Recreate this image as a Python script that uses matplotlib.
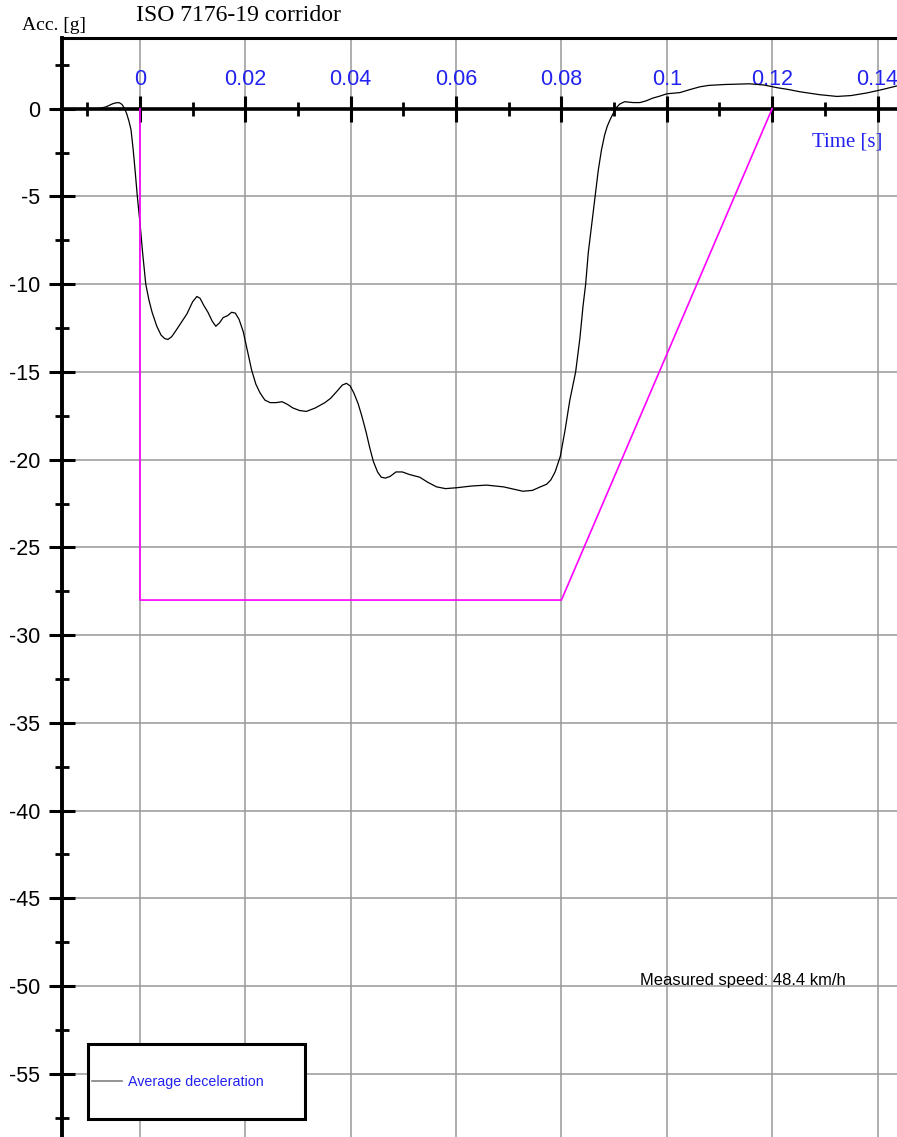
import matplotlib
matplotlib.use("Agg")
import matplotlib.pyplot as plt
from matplotlib.lines import Line2D
from matplotlib.patches import Rectangle
from matplotlib.ticker import FixedLocator, FixedFormatter

# measured acceleration trace
time_s = [
    -0.0080, -0.0065, -0.0052, -0.0045, -0.0039, -0.0034, -0.0029, -0.0025,
    -0.0021, -0.0017, -0.0013, -0.0009, -0.0005, 0.0000, 0.0005, 0.0011,
    0.0017, 0.0023, 0.0032, 0.0040, 0.0047, 0.0053, 0.0060, 0.0067,
    0.0078, 0.0089, 0.0100, 0.0108, 0.0114, 0.0121, 0.0129, 0.0137,
    0.0144, 0.0151, 0.0158, 0.0166, 0.0174, 0.0181, 0.0188, 0.0196,
    0.0204, 0.0212, 0.0220, 0.0228, 0.0237, 0.0247, 0.0258, 0.0270,
    0.0280, 0.0290, 0.0303, 0.0316, 0.0333, 0.0351, 0.0362, 0.0374,
    0.0384, 0.0392, 0.0399, 0.0406, 0.0414, 0.0421, 0.0429, 0.0436,
    0.0443, 0.0451, 0.0458, 0.0466, 0.0475, 0.0486, 0.0498, 0.0512,
    0.0531, 0.0547, 0.0563, 0.0580, 0.0601, 0.0630, 0.0658, 0.0690,
    0.0712, 0.0727, 0.0745, 0.0760, 0.0772, 0.0780, 0.0788, 0.0798,
    0.0807, 0.0816, 0.0827, 0.0835, 0.0841, 0.0846, 0.0851, 0.0857,
    0.0864, 0.0870, 0.0876, 0.0882, 0.0887, 0.0892, 0.0897, 0.0901,
    0.0906, 0.0911, 0.0920, 0.0936, 0.0949, 0.0961, 0.0973, 0.0987,
    0.1000, 0.1025, 0.1045, 0.1063, 0.1080, 0.1110, 0.1157, 0.1185,
    0.1209, 0.1230, 0.1252, 0.1290, 0.1323, 0.1350, 0.1380, 0.1410,
    0.1437,
]
accel_g = [
    0.00, 0.10, 0.28, 0.34, 0.34, 0.24, 0.00, -0.30,
    -0.70, -1.20, -2.30, -3.60, -5.00, -6.50, -8.20, -10.00,
    -10.90, -11.60, -12.40, -12.90, -13.10, -13.15, -13.00, -12.70,
    -12.20, -11.70, -11.00, -10.70, -10.80, -11.20, -11.60, -12.10,
    -12.40, -12.20, -11.90, -11.80, -11.60, -11.65, -12.00, -12.70,
    -13.80, -14.90, -15.70, -16.20, -16.60, -16.75, -16.75, -16.70,
    -16.85, -17.05, -17.20, -17.25, -17.05, -16.75, -16.50, -16.10,
    -15.75, -15.65, -15.80, -16.20, -16.80, -17.50, -18.40, -19.30,
    -20.10, -20.70, -21.00, -21.05, -20.95, -20.70, -20.70, -20.85,
    -21.00, -21.30, -21.55, -21.65, -21.60, -21.50, -21.45, -21.55,
    -21.70, -21.80, -21.75, -21.55, -21.40, -21.15, -20.70, -19.80,
    -18.30, -16.60, -15.00, -13.10, -11.25, -10.00, -8.20, -6.70,
    -5.00, -3.50, -2.35, -1.50, -1.00, -0.65, -0.35, -0.10,
    0.12, 0.27, 0.40, 0.35, 0.35, 0.45, 0.60, 0.72,
    0.85, 0.92, 1.10, 1.25, 1.33, 1.38, 1.42, 1.35,
    1.20, 1.10, 0.97, 0.80, 0.70, 0.75, 0.90, 1.10,
    1.30,
]

# ISO 7176-19 corridor
corridor_t = [0.0, 0.0, 0.08, 0.12]
corridor_g = [0.0, -28.0, -28.0, 0.0]

x_ticks = [0.0, 0.02, 0.04, 0.06, 0.08, 0.10, 0.12, 0.14]
x_tick_labels = ["0", "0.02", "0.04", "0.06", "0.08", "0.1", "0.12", "0.14"]
x_minor = [-0.01, 0.01, 0.03, 0.05, 0.07, 0.09, 0.11, 0.13]
y_ticks = [0, -5, -10, -15, -20, -25, -30, -35, -40, -45, -50, -55]
y_tick_labels = [str(v) for v in y_ticks]
y_minor = [2.5, -2.5, -7.5, -12.5, -17.5, -22.5, -27.5, -32.5, -37.5,
           -42.5, -47.5, -52.5, -57.5]

BLUE = "#2222f0"
W, H = 897, 1137

plt.rcParams["axes.unicode_minus"] = False
plt.rcParams["font.family"] = ["Liberation Sans", "DejaVu Sans"]

fig = plt.figure(figsize=(W / 100, H / 100), dpi=100)
ax = fig.add_axes([62 / W, 0, 835 / W, 1099 / H])
ax.set_xlim(-0.0148, 0.1437)
ax.set_ylim(-58.6, 4.03)

# curve + corridor
ax.plot(time_s, accel_g, color="black", lw=0.9, zorder=3)
ax.plot(corridor_t, corridor_g, color="#ff00ff", lw=1.2, zorder=3)

# axes: x-axis sits on zero, frame line on top
ax.spines["top"].set_position(("data", 0))
ax.spines["bottom"].set_position(("axes", 1.0))
ax.spines["right"].set_visible(False)
ax.spines["top"].set_linewidth(2.6)
ax.spines["left"].set_linewidth(2.8)
ax.spines["bottom"].set_linewidth(2.2)
ax.xaxis.set_ticks_position("top")

ax.xaxis.set_major_locator(FixedLocator(x_ticks))
ax.xaxis.set_major_formatter(FixedFormatter(x_tick_labels))
ax.xaxis.set_minor_locator(FixedLocator(x_minor))
ax.yaxis.set_major_locator(FixedLocator(y_ticks))
ax.yaxis.set_major_formatter(FixedFormatter(y_tick_labels))
ax.yaxis.set_minor_locator(FixedLocator(y_minor))

ax.tick_params(axis="x", which="major", direction="inout", length=19, width=2.2,
               pad=4, labelsize=15.5, labelcolor=BLUE)
ax.tick_params(axis="x", which="minor", direction="inout", length=10, width=2.0)
ax.tick_params(axis="y", which="major", direction="inout", length=19, width=2.2,
               pad=6, labelsize=15.5)
ax.tick_params(axis="y", which="minor", direction="inout", length=10, width=2.0)

ax.grid(True, which="major", color="#999999", lw=1.1)
ax.set_axisbelow(True)

# legend with its own white box
ax.add_patch(Rectangle(((88 - 62) / 835, (H - 1119) / 1099), 217 / 835, 75 / 1099,
                       transform=ax.transAxes, facecolor="white", edgecolor="black",
                       lw=2.2, clip_on=False, zorder=4))
handle = Line2D([], [], color="#808080", lw=1.2)
leg = ax.legend([handle], ["Average deceleration"], loc="center left",
                bbox_to_anchor=((92 - 62) / 835, (H - 1082) / 1099),
                frameon=False, borderpad=0, borderaxespad=0, handlelength=2.1,
                handletextpad=0.4, fontsize=10.3, labelcolor=BLUE)
leg.set_zorder(5)

# texts
fig.text(136 / W, 1 - 21 / H, "ISO 7176-19 corridor", family="Liberation Serif",
         fontsize=17, va="baseline")
fig.text(22 / W, 1 - 30 / H, "Acc. [g]", family="Liberation Serif",
         fontsize=14, va="baseline")
fig.text(812 / W, 1 - 147 / H, "Time [s]", family="Liberation Serif",
         fontsize=15, va="baseline", color=BLUE)
fig.text(640 / W, 1 - 985 / H, "Measured speed: 48.4 km/h", fontsize=11.9,
         va="baseline")

fig.savefig("out.png", dpi=100)
plt.close(fig)
